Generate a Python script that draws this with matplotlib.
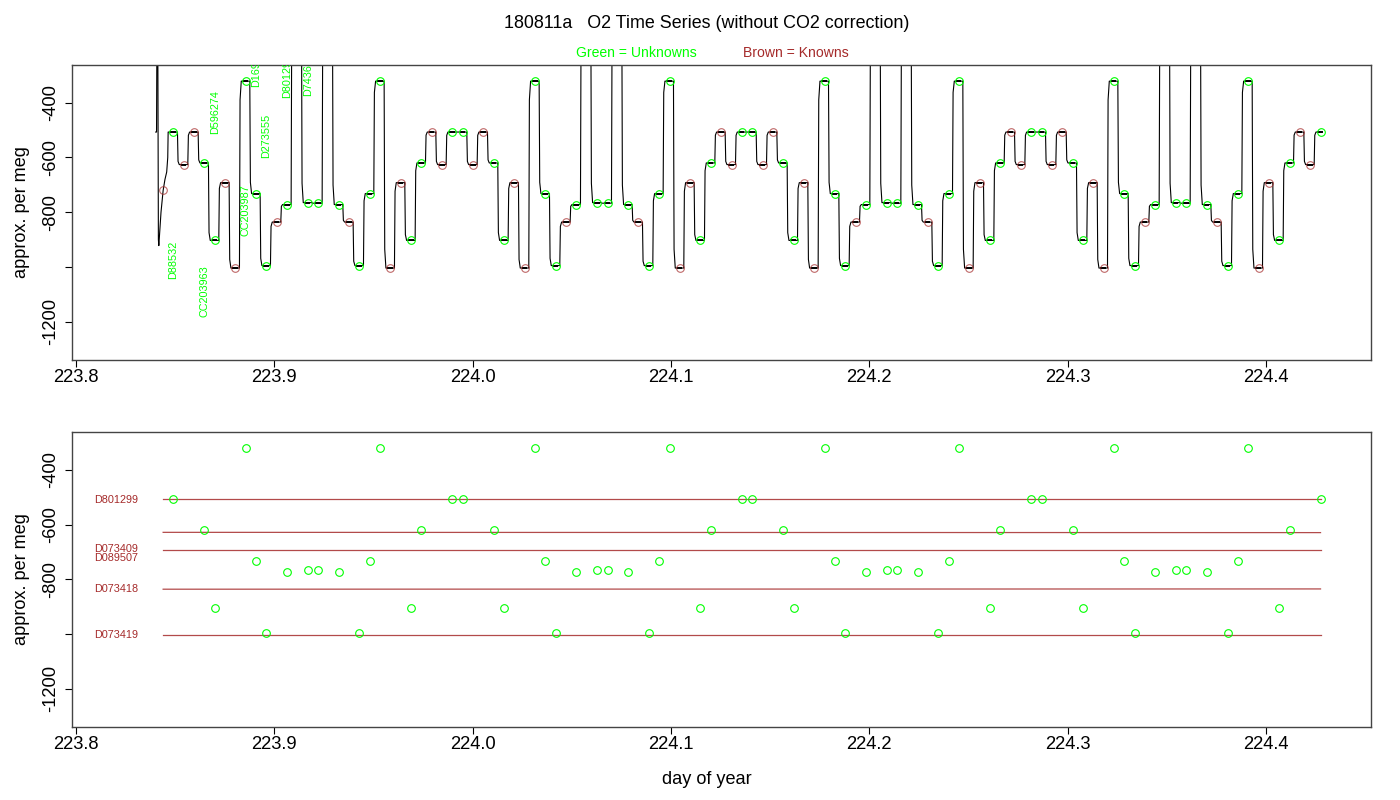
import matplotlib
matplotlib.use('Agg')
import matplotlib.pyplot as plt
from matplotlib.collections import LineCollection

plt.rcParams['font.family'] = ['Liberation Sans', 'DejaVu Sans']
plt.rcParams['axes.unicode_minus'] = False

GREEN = '#00FF00'
BROWN = '#A52A2A'

# ---------------- data ----------------
# sample times (day of year), 4 repeated cycles of 28 samples
sample_time = [
    223.84929, 223.85450, 223.85971, 223.86491, 223.87012, 223.87533, 223.88054,
    223.88575, 223.89096, 223.89616, 223.90137, 223.90658, 223.91179, 223.91700,
    223.92221, 223.92741, 223.93262, 223.93783, 223.94304, 223.94825, 223.95346,
    223.95866, 223.96387, 223.96908, 223.97429, 223.97950, 223.98471, 223.98991,
    223.99512, 224.00033, 224.00554, 224.01074, 224.01595, 224.02116, 224.02637,
    224.03158, 224.03679, 224.04199, 224.04720, 224.05241, 224.05762, 224.06283,
    224.06804, 224.07324, 224.07845, 224.08366, 224.08887, 224.09408, 224.09929,
    224.10449, 224.10970, 224.11491, 224.12012, 224.12533, 224.13054, 224.13574,
    224.14096, 224.14617, 224.15138, 224.15658, 224.16179, 224.16700, 224.17221,
    224.17742, 224.18263, 224.18783, 224.19304, 224.19825, 224.20346, 224.20867,
    224.21388, 224.21908, 224.22429, 224.22950, 224.23471, 224.23992, 224.24513,
    224.25033, 224.25554, 224.26075, 224.26596, 224.27117, 224.27638, 224.28158,
    224.28679, 224.29200, 224.29721, 224.30241, 224.30762, 224.31283, 224.31804,
    224.32325, 224.32846, 224.33366, 224.33887, 224.34408, 224.34929, 224.35450,
    224.35971, 224.36491, 224.37012, 224.37533, 224.38054, 224.38575, 224.39096,
    224.39616, 224.40137, 224.40658, 224.41179, 224.41700, 224.42221, 224.42741,
]

# O2 values (approx. per meg); -60 marks samples far above the plotted range
sample_o2 = [
    -507, -626, -507, -620, -903, -692, -1004, -321, -732, -995, -836, -772, -60, -765,
    -767, -60, -772, -836, -995, -732, -321, -1004, -692, -903, -620, -507, -626, -507,
    -507, -626, -507, -620, -903, -692, -1004, -321, -732, -995, -836, -772, -60, -765,
    -767, -60, -772, -836, -995, -732, -321, -1004, -692, -903, -620, -507, -626, -507,
    -507, -626, -507, -620, -903, -692, -1004, -321, -732, -995, -836, -772, -60, -765,
    -767, -60, -772, -836, -995, -732, -321, -1004, -692, -903, -620, -507, -626, -507,
    -507, -626, -507, -620, -903, -692, -1004, -321, -732, -995, -836, -772, -60, -765,
    -767, -60, -772, -836, -995, -732, -321, -1004, -692, -903, -620, -507, -626, -507,
]

# G = unknown, K = known
sample_kind = ("GKKGGKKGGGKGGGGGGKGGGKKGGKKG"
               "GKKGGKKGGGKGGGGGGKGGGKKGGKKG"
               "GKKGGKKGGGKGGGGGGKGGGKKGGKKG"
               "GKKGGKKGGGKGGGGGGKGGGKKGGKKG")

# warm-up trace before the first regular sample
warm_t = [223.84032, 223.84075, 223.84098, 223.84135, 223.84168, 223.84190,
          223.84300, 223.84408, 223.84500, 223.84587, 223.84640, 223.84660]
warm_v = [-507, -507, -60, -60, -900, -922, -800, -720, -680, -653, -600, -507]
warm_known_t = [223.84408]
warm_known_v = [-720]

# unknown labels (top panel)
unk_label_names = ['D88532', 'CC203963', 'D596274', 'CC203987', 'D169',
                   'D273555', 'D80129', 'D7436']
unk_label_t = [223.84929, 223.86491, 223.87012, 223.88575, 223.89096,
               223.89616, 223.90658, 223.91700]
unk_label_v = [-1045, -1183, -514, -887, -342, -602, -382, -374]

# known reference lines (bottom panel)
known_line_start = [-507, -628, -693, -836, -1003]
known_line_end = [-507, -629, -693, -835, -1003]
known_line_t = [223.84408, 224.42741]
known_label_names = ['D801299', 'D073409', 'D089507', 'D073418', 'D073419']
known_label_v = [-510, -690, -721, -836, -1003]
known_label_t = 223.8203

xticks = [223.8, 223.9, 224.0, 224.1, 224.2, 224.3, 224.4]
yticks = [-400, -600, -800, -1000, -1200]
ytick_labels = ['-400', '-600', '-800', '', '-1200']
XLIM = (223.79798, 224.45272)
YLIM = (-1340, -261)

# ---------------- figure ----------------
fig = plt.figure(figsize=(14, 8), dpi=100)
ax1 = fig.add_axes([0.0512, 0.55, 0.9279, 0.3691])
ax2 = fig.add_axes([0.0512, 0.09125, 0.9279, 0.36875])

for ax in (ax1, ax2):
    ax.set_xlim(*XLIM)
    ax.set_ylim(*YLIM)
    ax.set_xticks(xticks)
    ax.set_xticklabels([f'{x:.1f}' for x in xticks])
    ax.set_yticks(yticks)
    ax.set_yticklabels(ytick_labels, rotation=90, va='center')
    ax.tick_params(axis='both', direction='out', length=5.3, width=0.8,
                   labelsize=13.2, color='black')
    ax.tick_params(axis='x', pad=1.5)
    ax.tick_params(axis='y', pad=3.5)
    for s in ax.spines.values():
        s.set_color('#444444')
        s.set_linewidth(1.0)

# ---- top panel: time series ----
n = len(sample_time)
line_t = list(warm_t)
line_v = list(warm_v)
for k in range(n):
    t, v = sample_time[k], sample_o2[k]
    end = t + 0.0020 if k < n - 1 else t + 0.0005
    line_t += [t - 0.0023, end]
    line_v += [v, v]
    if k < n - 1:
        nv = sample_o2[k + 1]
        line_t.append(t + 0.0023)
        line_v.append(v + 0.9 * (nv - v))
ax1.plot(line_t, line_v, color='black', lw=0.8, zorder=2)

segs = [[(t - 0.0016, v), (t + 0.0013, v)] for t, v in zip(sample_time, sample_o2)]
ax1.add_collection(LineCollection(segs, colors='black', linewidths=1.4, zorder=3))

ut = [t for t, c in zip(sample_time, sample_kind) if c == 'G']
uv = [v for v, c in zip(sample_o2, sample_kind) if c == 'G']
kt = [t for t, c in zip(sample_time, sample_kind) if c == 'K'] + warm_known_t
kv = [v for v, c in zip(sample_o2, sample_kind) if c == 'K'] + warm_known_v

ax1.plot(ut, uv, 'o', ms=5.5, mfc='none', mec=GREEN, mew=0.8, zorder=4)
ax1.plot(kt, kv, 'o', ms=5.5, mfc='none', mec=BROWN, mew=0.8, alpha=0.7, zorder=4)

for name, t, v in zip(unk_label_names, unk_label_t, unk_label_v):
    ax1.text(t, v, name, rotation=90, ha='center', va='bottom', color=GREEN,
             fontsize=7.8, clip_on=True)

# ---- bottom panel ----
for v0, v1 in zip(known_line_start, known_line_end):
    ax2.plot(known_line_t, [v0, v1], color=BROWN, lw=0.9, alpha=0.85, zorder=2)
ax2.plot(ut, uv, 'o', ms=5.5, mfc='none', mec=GREEN, mew=0.8, zorder=3)
for name, v in zip(known_label_names, known_label_v):
    ax2.text(known_label_t, v, name, ha='center', va='center', color=BROWN,
             fontsize=7.8)

# ---- texts ----
fig.text(707 / 1400, 1 - 23.3 / 800,
         '180811a   O2 Time Series (without CO2 correction)',
         ha='center', va='center', fontsize=12.9)
fig.text(636 / 1400, 1 - 52.7 / 800, 'Green = Unknowns', color=GREEN,
         ha='center', va='center', fontsize=10.1)
fig.text(796 / 1400, 1 - 52.7 / 800, 'Brown = Knowns', color=BROWN,
         ha='center', va='center', fontsize=10.1)
fig.text(21.7 / 1400, 1 - 212.4 / 800, 'approx. per meg', rotation=90,
         ha='center', va='center', fontsize=13.1)
fig.text(21.7 / 1400, 1 - 579.5 / 800, 'approx. per meg', rotation=90,
         ha='center', va='center', fontsize=13.1)
fig.text(707 / 1400, 1 - 779 / 800, 'day of year', ha='center', va='center',
         fontsize=13.1)

fig.savefig('out.png', dpi=100)
